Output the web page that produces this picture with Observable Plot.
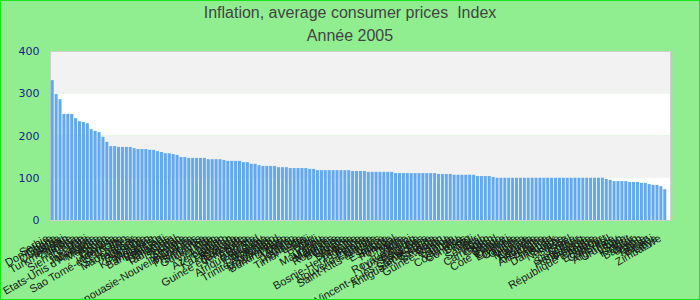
<!DOCTYPE html>
<html>
<head>
<meta charset="utf-8">
<script src="https://cdn.jsdelivr.net/npm/d3@7"></script>
<script src="https://cdn.jsdelivr.net/npm/@observablehq/plot@0.6"></script>
<style>
  html, body { margin: 0; padding: 0; background: #90ee90; }
  #wrap { position: relative; width: 700px; height: 300px; background: #90ee90; overflow: hidden; }
  #border { position: absolute; left: 0; top: 0; width: 698px; height: 298px; border: 1px solid #19e619; pointer-events: none; }
  .t { position: absolute; left: 0; width: 700px; text-align: center; white-space: pre;
       font-family: "Liberation Sans Narrow", "Arial Narrow", "Liberation Sans", sans-serif;
       font-size: 16px; color: #444; line-height: 18px; }
  #chart { position: absolute; left: 0; top: 0; }
</style>
</head>
<body>
<div id="wrap">
  <div class="t" id="title" style="top:4px"></div>
  <div class="t" id="subtitle" style="top:27px"></div>
  <div id="chart"></div>
  <div id="border"></div>
</div>
<script>
const titleText = "Inflation, average consumer prices  Index";
const subtitleText = "Année 2005";

const countries = [
  "Serbie","Dominique","Ghana","Ouganda","Malawi","Turkménistan","Zambie","Nigéria","Kenya","Sierra Leone",
  "Haïti","Jamaïque","Mongolie","Etats-Unis d'Amérique","Mexique","Yémen","Égypte","Guyana","Indonésie","Sao Tomé-et-Principe",
  "Iran","Seychelles","Madagascar","Tanzanie","Ukraine","Colombie","Kirghizistan","Moldavie","Bangladesh","Pakistan",
  "Burundi","Bahamas","Tadjikistan","Népal","Soudan","Géorgie","Arménie","Papouasie-Nouvelle-Guinée","Honduras","Philippines",
  "Sri Lanka","Guatemala","Inde","Viet Nam","Angola","Azerbaïdjan","Lesotho","Kazakhstan","Rwanda","Barbade",
  "Guinée équatoriale","Venezuela","Albanie","Bolivie","Afrique du Sud","Paraguay","Botswana","Namibie","Trinité-et-Tobago","Swaziland",
  "Mozambique","Burkina Faso","Tunisie","Maroc","Jordanie","Thaïlande","Timor-Leste","Fidji","Belize","Chili",
  "Pérou","Mauritanie","Malaisie","Maldives","Roumanie","Bulgarie","Croatie","Hongrie","Slovénie","Lettonie",
  "Bosnie-Herzégovine","Lituanie","Estonie","Nouvelle-Zélande","Islande","Saint-Kitts-et-Nevis","Grèce","Espagne","Irlande","Portugal",
  "Chypre","Malte","Italie","Royaume-Uni","Luxembourg","Belgique","Pays-Bas","Saint-Vincent-et-les-Grenadines","Sainte-Lucie","Antigua-et-Barbuda",
  "Grenade","Oman","Guinée-Bissau","Samoa","Tonga","Vanuatu","Costa Rica","Comores","Bénin","Mali",
  "Niger","Sénégal","Togo","Cameroun","Gabon","Tchad","Congo","Côte d'Ivoire","Djibouti","Érythrée",
  "Gambie","Guinée","Libéria","Maurice","Canada","Australie","Autriche","Allemagne","France","Finlande",
  "Danemark","Suède","Norvège","Suisse","Israël","Corée","Singapour","Hong Kong","Slovaquie","Pologne",
  "République tchèque","Algérie","Équateur","Cap-Vert","Brésil","Argentine","Uruguay","Liban","Syrie","Koweït",
  "Qatar","Bahreïn","Japon","Chine","Taïwan","Brunéi","Libye","Zimbabwe"
];

const values = [
  331,298,286,251,251,251,241,234,232,229,
  215,211,208,197,185,175,175,173,173,173,
  173,170,168,168,168,166,166,163,161,158,
  158,156,154,149,149,147,147,147,147,147,
  144,144,144,144,142,140,140,140,140,137,
  137,133,133,130,128,128,128,128,125,125,
  125,123,123,123,123,123,121,121,118,118,
  118,118,118,118,118,118,118,116,116,116,
  116,114,114,114,114,114,114,114,111,111,
  111,111,111,111,111,111,111,111,111,109,
  109,109,109,107,107,107,107,107,107,104,
  104,104,104,102,100,100,100,100,100,100,
  100,100,100,100,100,100,100,100,100,100,
  100,100,100,100,100,100,100,100,100,100,
  100,100,97,95,92,92,92,92,90,90,
  90,88,88,85,83,83,80,73
];

const yTicks = [0, 100, 200, 300, 400];

document.getElementById("title").textContent = titleText;
document.getElementById("subtitle").textContent = subtitleText;

const data = countries.map((c, i) => ({country: c, value: values[i]}));
const bands = yTicks.slice(0, -1).map((v, i) => ({lo: v, hi: yTicks[i + 1], odd: i % 2 === 1}));

const chart = Plot.plot({
  width: 700,
  height: 300,
  marginTop: 51,
  marginBottom: 80,
  marginLeft: 50,
  marginRight: 30,
  style: {background: "none", overflow: "visible"},
  x: {domain: countries, range: [50.5, 666.5], paddingInner: 0.22, paddingOuter: 0.05, axis: null},
  y: {domain: [0, 400], axis: null},
  marks: [
    Plot.rect(bands, {y1: "lo", y2: "hi", fill: "#ffffff"}),
    Plot.rect(bands.filter(d => d.odd), {y1: "lo", y2: "hi", fill: "#f2f2f2"}),
    Plot.frame({stroke: "#cfcfcf"}),
    Plot.barY(data, {x: "country", y: "value", fill: "#63a9f1"}),
    Plot.axisY({ticks: yTicks, tickSize: 0, tickPadding: 11, label: null,
      fill: "#1c1c8a", fontSize: 11, fontFamily: "DejaVu Sans"}),
    Plot.axisX({tickSize: 0, tickPadding: 17, tickRotate: -30, label: null, dx: -5,
      fill: "#1a1a1a", fontSize: 11, fontFamily: "Liberation Sans"})
  ]
});
document.getElementById("chart").appendChild(chart);
</script>
</body>
</html>
